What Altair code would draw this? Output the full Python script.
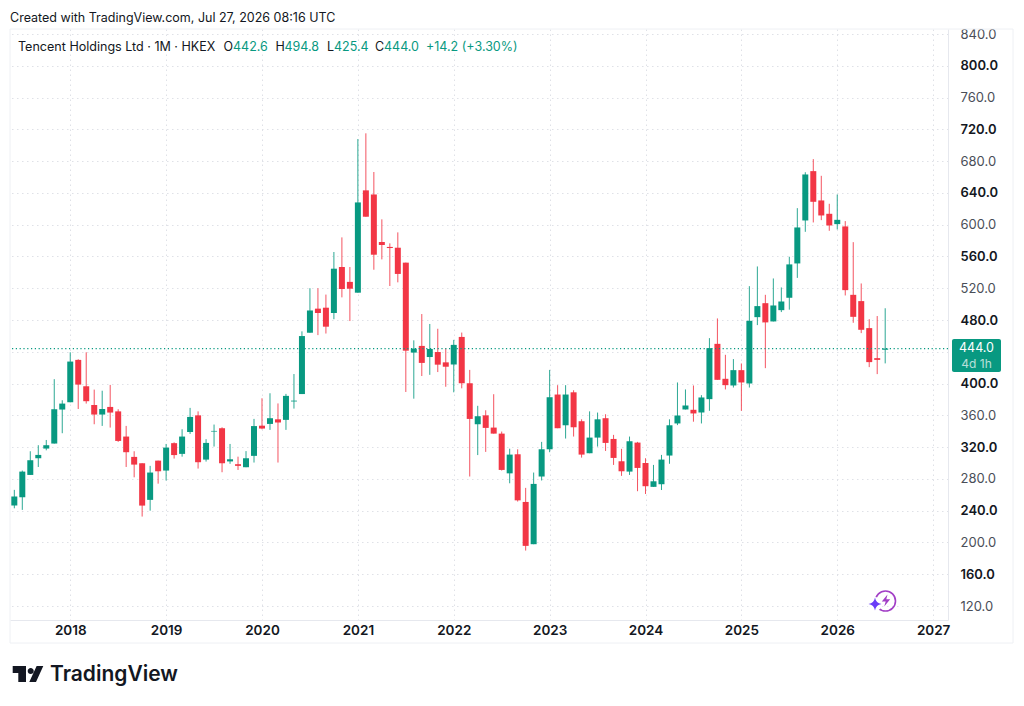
import altair as alt
import pandas as pd

# Monthly candles, Jun 2017 .. Jul 2026
open_ = [246.4,256.9,285,306,318.2,324.5,367.3,376.5,429.8,396.6,373,361,370.6,365,333.3,307.7,299.7,253.6,303,290.5,325,311.5,339,360,304.3,339.6,343.8,302,298.5,294.7,309,
 347,349.2,355,354.3,377.5,386.8,464,494.3,495.5,488.8,546.7,528,514.4,643.2,638,578.2,572,571,552.2,439,447.4,433.4,439.7,426.7,424,458.7,400.4,348.8,360,344.6,337,287,311,251,197.8,283,317.3,386.2,347.5,389,352.6,312.3,332,356.4,330.3,302.2,289.2,325.7,300,270,273.3,309.4,349.8,367.4,367,363.6,380.4,450,406,397.6,416.9,400.1,483.6,501.2,478.2,492.4,508,551.2,605.3,667.4,630.5,613.7,600.7,597.8,511.7,503.8,469.8,432,442.6]
high = [266.2,290.5,314.8,322.4,329,405.5,379,439.4,430.6,439.4,392.4,391,398.3,367.7,346.7,314.8,299.7,296.4,303,324,326,342.5,369.4,365,330,348.4,345,324,308,315,355.5,
 381.5,387.8,375,387,412,465.7,520,520,512,565.6,584,546.7,707.8,715,666.3,606.7,576.5,590.3,552.2,454.4,487.5,475,469,444,455,464.2,417.2,372,366.4,386.6,339.6,318,317.3,268.7,288,326.6,417.2,398,398,391.6,355,365,363.5,361.4,335.4,317.8,333.3,326.6,306,297.6,310.2,355,401.4,392.6,397.6,385.4,457.2,482,436.2,430.8,425.3,522.6,547.4,511.7,532.3,521,559.6,620.8,666,682.5,661.5,626.3,638,604.5,578,526,481,485,494.8]
low = [243,241,285,295,316,324.5,337.5,376.5,368,374.8,348.8,346.7,344.6,326.6,295,282,232.6,240,274,278,305.6,308,336.6,293,301.8,320.7,288.4,299,291.3,294.7,300.6,
 342.5,341.7,300.6,341.7,368.5,386.8,464,461,463,481,508.5,478.7,514.4,610,543.3,556.3,522.8,527.4,389.4,381,409.5,411,414.5,396,389,394,283,310,314,337,290.5,274.5,251.5,189.8,197.8,278,313.6,343.8,330.8,333.3,306.8,312.3,320.7,315.2,297.6,283.8,285,264.5,261,270,266,299,347.7,367.4,352,349.8,365.7,404.7,392.6,395,365.7,395,473.6,419.4,478.2,490,493,533,591,602.8,605.7,592.3,594,510.9,476.5,463.5,420.7,411.9,425.4]
close = [257.8,289.2,303.5,310.2,322.4,367.7,374.8,427.7,398.7,377.8,361,368,363.5,327.8,313.6,298,246.4,288,289.6,319.4,310,333.3,358,301,325.3,340.4,299.7,304.7,296.4,306,346.5,
 343.4,356.4,351,384.5,378.5,459.8,492,488.8,471.6,544.6,519,519.4,628,610,562.2,574.4,570.6,538,441.4,444,426,443.5,423.8,421.2,448.7,400.4,355.5,358.9,344.2,337,291.3,310.6,253,195.7,273.7,317.3,382.8,343.8,386.2,345,310.6,332,355,325.3,306.4,289.6,327.4,293.8,270.8,277,304.3,347.5,359.8,372.4,362.4,382.5,444.6,404.7,398,416.9,401.4,479,497.5,477,498.3,503.3,550,596.5,663.2,628.8,611.6,599,606.1,517.6,484,467.7,427,429.8,444.0]

price_ticks_regular = list(range(120, 841, 80))
price_ticks_bold = list(range(160, 801, 80))
year_labels = list(range(2018, 2028))
year_index = [7 + 12 * i for i in range(len(year_labels))]
last_price = [444.0]

UP, DOWN = "#089981", "#f23645"
GRID = "#dfe1e7"
FONT = "Inter"

n = len(open_)
assert n == len(high) == len(low) == len(close) == 110
df = pd.DataFrame({
    "i": list(range(n)), "o": open_, "h": high, "l": low, "c": close,
    "top": [max(a, b) for a, b in zip(open_, close)],
    "bot": [min(a, b) for a, b in zip(open_, close)],
    "dir": ["up" if c >= o else "down" for o, c in zip(open_, close)],
})

x_scale = alt.Scale(domain=[-0.54, 116.86], nice=False, zero=False, padding=0)
y_scale = alt.Scale(domain=[102.4, 846.3], nice=False, zero=False)
color = alt.Color("dir:N", scale=alt.Scale(domain=["up", "down"], range=[UP, DOWN]), legend=None)

x_axis = alt.Axis(title=None, values=year_index, labelExpr="toString(2018+(datum.value-7)/12)",
                  grid=True, gridColor=GRID, gridDash=[1.5, 3.5], ticks=False,
                  domainColor="#e6e8ee", labelFont=FONT, labelFontSize=13.5, labelFontWeight=600,
                  labelColor="#131722", labelPadding=3, labelFlush=False, labelOverlap=False)
y_axis_regular = alt.Axis(title=None, orient="right", values=price_ticks_regular, format=".1f",
                  grid=True, gridColor=GRID, gridDash=[1.5, 3.5], ticks=False, domain=True,
                  domainColor="#e6e8ee", labelFont=FONT, labelFontSize=13, labelPadding=12,
                  labelFontWeight=400, labelColor="#4a4e58",
                  labelOverlap=False, labelBound=False)
y_axis_bold = alt.Axis(title=None, orient="right", values=price_ticks_bold, format=".1f",
                  grid=True, gridColor=GRID, gridDash=[1.5, 3.5], ticks=False, domain=False,
                  labelFont=FONT, labelFontSize=13, labelPadding=12,
                  labelFontWeight=600, labelColor="#131722",
                  labelOverlap=False, labelBound=False)

base = alt.Chart(df)
wicks = base.mark_rule(strokeWidth=1, opacity=0.85).encode(
    x=alt.X("i:Q", scale=x_scale, axis=x_axis),
    y=alt.Y("l:Q", scale=y_scale, axis=y_axis_regular),
    y2="h:Q",
    color=color,
)
bodies = base.mark_bar(size=6, stroke=None).encode(
    x=alt.X("i:Q", scale=x_scale),
    y=alt.Y("top:Q", scale=y_scale, axis=y_axis_bold),
    y2="bot:Q",
    color=color,
)
price_line = alt.Chart(pd.DataFrame({"p": last_price})).mark_rule(
    strokeWidth=1.2, strokeDash=[1.2, 2.6]).encode(
    y=alt.Y("p:Q", scale=y_scale, axis=None), color=alt.value(UP))


def px(x):
    return x - 10


def py(y):
    return y - 29


def label(text, x, y, col="#131722", size=12.5, weight=400, align="left", opacity=1.0):
    return alt.Chart(pd.DataFrame({"t": [text]})).mark_text(
        font=FONT, fontSize=size, fontWeight=weight, align=align, baseline="middle",
        color=col, opacity=opacity).encode(x=alt.value(px(x)), y=alt.value(py(y)), text="t:N")


def rect(x0, x1, y0, y1, **kw):
    return alt.Chart(pd.DataFrame({"a": [0]})).mark_rect(**kw).encode(
        x=alt.value(px(x0)), x2=alt.value(px(x1)), y=alt.value(py(y0)), y2=alt.value(py(y1)))


def glyph(path, x, y, box, **kw):
    return alt.Chart(pd.DataFrame({"a": [0]})).mark_point(
        shape=path, size=box * box, filled=True, opacity=1, **kw).encode(
        x=alt.value(px(x)), y=alt.value(py(y)))


frame = rect(10, 1013, 29, 643, fill=None, stroke="#eef0f4", strokeWidth=1)
tag = rect(952, 1001, 339, 372, fill=UP, cornerRadius=2)

texts = [
    label("Created with TradingView.com, Jul 27, 2026 08:16 UTC", 10, 18, size=12.5),
    label("Tencent Holdings Ltd · 1M · HKEX", 18, 47, size=12.55),
    label("O", 223.5, 47, size=12.5), label("442.6", 233, 47, UP, 12.5),
    label("H", 275.5, 47, size=12.5), label("494.8", 284.5, 47, UP, 12.5),
    label("L", 327, 47, size=12.5), label("425.4", 334, 47, UP, 12.5),
    label("C", 375, 47, size=12.5), label("444.0", 384, 47, UP, 12.5),
    label("+14.2 (+3.30%)", 426, 47, UP, 12.5),
    label("444.0", 976.5, 348, "#ffffff", 12.5, align="center"),
    label("4d 1h", 976.5, 364, "#ffffff", 12, align="center", opacity=0.7),
    label("TradingView", 50, 675, "#131722", 21, 600),
]

logo = glyph("M-0.956 -0.5H-0.125V0.5H-0.606V-0.0625H-0.956Z"
             "M-0.02 -0.19a0.19 0.19 0 1 0 0.38 0a0.19 0.19 0 1 0 -0.38 0Z"
             "M0.54 -0.5H0.956L0.5 0.5H0.08Z", 28, 674, 32, color="#131722", strokeWidth=0)

ring = alt.Chart(pd.DataFrame({"a": [0]})).mark_point(
    shape="circle", size=400, filled=False, stroke="#a23fc6", strokeWidth=1.6, opacity=1).encode(
    x=alt.value(px(885.5)), y=alt.value(py(601)))
halo = alt.Chart(pd.DataFrame({"a": [0]})).mark_point(
    shape="circle", size=200, filled=True, color="#ffffff", opacity=1).encode(
    x=alt.value(px(875)), y=alt.value(py(604)))
bolt = glyph("M0.25 -1L-0.7 0.15H-0.05L-0.3 1L0.7 -0.2H0.05Z", 886, 600.5, 12, color="#a23fc6", strokeWidth=0)
spark = glyph("M0 -1Q0.14 -0.14 1 0Q0.14 0.14 0 1Q-0.14 0.14 -1 0Q-0.14 -0.14 0 -1Z", 875, 604, 13,
              color="#6a3cf7", strokeWidth=0)

chart = alt.layer(
    frame, wicks, bodies, price_line, tag, *texts, logo, ring, halo, bolt, spark
).resolve_axis(y="independent").properties(
    width=938, height=591,
    autosize=alt.AutoSizeParams(type="none"),
    padding={"left": 2, "top": 21, "right": 68, "bottom": 76},
    background="#ffffff",
).configure_view(stroke=None)

chart.save("out.html", embed_options={"renderer": "svg", "actions": False})
